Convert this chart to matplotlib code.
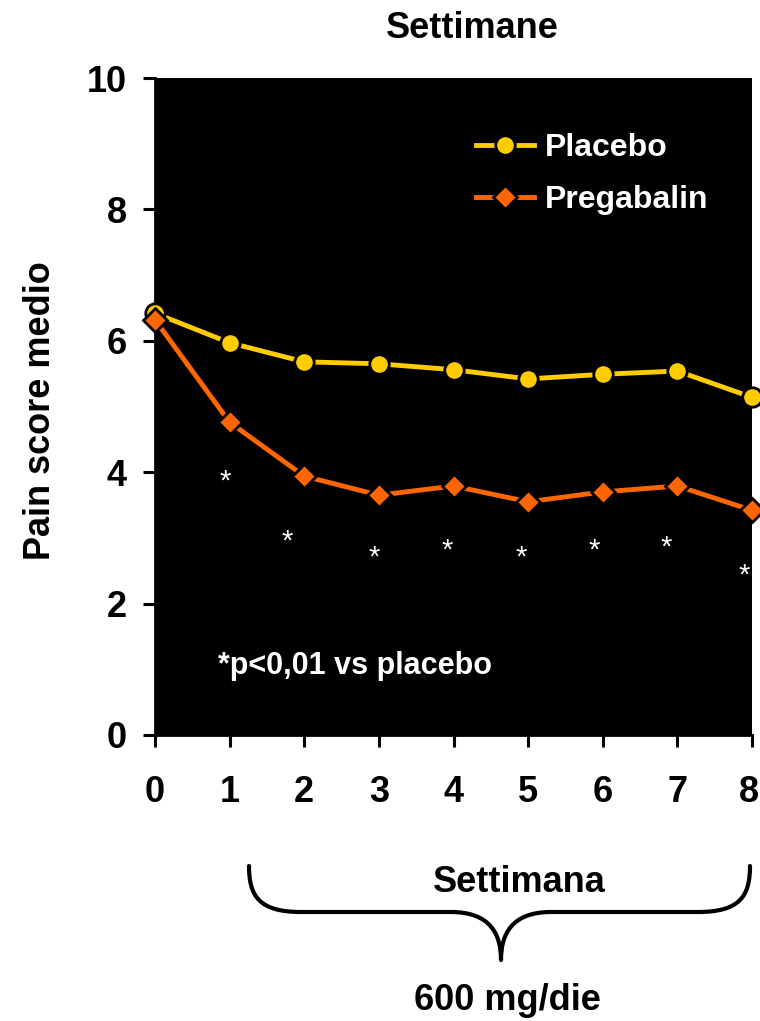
import matplotlib
matplotlib.use("Agg")
import matplotlib.pyplot as plt
from matplotlib.path import Path
from matplotlib.patches import PathPatch
from matplotlib.transforms import ScaledTranslation

plt.rcParams['font.family'] = ['Liberation Sans', 'DejaVu Sans']
plt.rcParams['font.weight'] = 'bold'

weeks = [0, 1, 2, 3, 4, 5, 6, 7, 8]
placebo = [6.42, 5.97, 5.68, 5.65, 5.56, 5.42, 5.49, 5.54, 5.14]
pregabalin = [6.32, 4.76, 3.94, 3.65, 3.79, 3.55, 3.70, 3.79, 3.42]
y_ticks = [0, 2, 4, 6, 8, 10]

# significance asterisks (x, y) placed under the Pregabalin curve
star_x = [0.94, 1.77, 2.94, 3.92, 4.91, 5.88, 6.85, 7.90]
star_y = [3.85, 2.95, 2.70, 2.80, 2.70, 2.80, 2.85, 2.42]

W, H = 760, 1021
fig = plt.figure(figsize=(W / 100, H / 100), dpi=100)
ax = fig.add_axes([155 / W, 1 - 735 / H, (752 - 155) / W, (735 - 78) / H])
ax.set_facecolor('black')

ax.plot(weeks, placebo, color='#FFCC00', lw=3.5, marker='o', ms=14,
        mfc='#FFCC00', mec='black', mew=2, clip_on=False, zorder=3,
        label='Placebo')
ax.plot(weeks, pregabalin, color='#FF6600', lw=3.5, marker='D', ms=12,
        mfc='#FF6600', mec='black', mew=2, clip_on=False, zorder=4,
        label='Pregabalin')

for sx, sy in zip(star_x, star_y):
    ax.text(sx, sy, '*', color='white', fontsize=21, ha='center', va='center',
            fontweight='normal')

ax.text(0.85, 1.05, '*p<0,01 vs placebo', color='white', fontsize=22,
        fontweight='bold', ha='left', va='center')

ax.set_xlim(0, 8)
ax.set_ylim(0, 10)
ax.set_xticks(weeks)
ax.set_yticks(y_ticks)
ax.tick_params(axis='both', direction='out', length=8.5, width=2.2,
               labelsize=26, colors='black')
ax.tick_params(axis='x', pad=20)
ax.tick_params(axis='y', pad=12)
for lbl in ax.get_xticklabels() + ax.get_yticklabels():
    lbl.set_fontweight('bold')
# keep the last week label inside the figure edge
last = ax.get_xticklabels()[-1]
last.set_transform(last.get_transform()
                   + ScaledTranslation(-3 / 100, 0, fig.dpi_scale_trans))
for side in ('top', 'right'):
    ax.spines[side].set_visible(False)
for side in ('left', 'bottom'):
    ax.spines[side].set_linewidth(2)

fig.text(41 / W, 1 - 411 / H, 'Pain score medio', fontsize=26,
         fontweight='bold', rotation=90, ha='center', va='center')

leg = ax.legend(loc='upper left', bbox_to_anchor=(0.489, 0.96), frameon=False,
                fontsize=23, handlelength=1.82, labelspacing=0.7,
                handletextpad=0.35)
for t in leg.get_texts():
    t.set_color('white')
    t.set_fontweight('bold')

fig.text(472 / W, 1 - 28 / H, 'Settimane', fontsize=26, fontweight='bold',
         ha='center', va='center')

# overlay in pixel coordinates for the brace and its captions
ov = fig.add_axes([0, 0, 1, 1])
ov.set_xlim(0, W)
ov.set_ylim(H, 0)
ov.axis('off')
ov.patch.set_alpha(0)

xl, xr, xm = 249, 750, 501
ytop, ymid, ytip = 866, 912, 960
r = 42
verts = [
    (xl, ytop), (xl, ytop + 30), (xl + 10, ymid), (xl + r + 10, ymid),
    (xm - 50, ymid),
    (xm - 10, ymid), (xm, ytip - 25), (xm, ytip),
    (xm, ytip - 25), (xm + 10, ymid), (xm + 50, ymid),
    (xr - r - 10, ymid),
    (xr - 10, ymid), (xr, ytop + 30), (xr, ytop),
]
codes = [Path.MOVETO, Path.CURVE4, Path.CURVE4, Path.CURVE4,
         Path.LINETO,
         Path.CURVE4, Path.CURVE4, Path.CURVE4,
         Path.CURVE4, Path.CURVE4, Path.CURVE4,
         Path.LINETO,
         Path.CURVE4, Path.CURVE4, Path.CURVE4]
ov.add_patch(PathPatch(Path(verts, codes), fill=False, lw=3, color='black',
                       capstyle='round', joinstyle='round'))
ov.text(519, 882, 'Settimana', fontsize=26, fontweight='bold',
        ha='center', va='center')
ov.text(507, 1000, '600 mg/die', fontsize=26, fontweight='bold',
        ha='center', va='center')

fig.savefig('out.png', dpi=100)
